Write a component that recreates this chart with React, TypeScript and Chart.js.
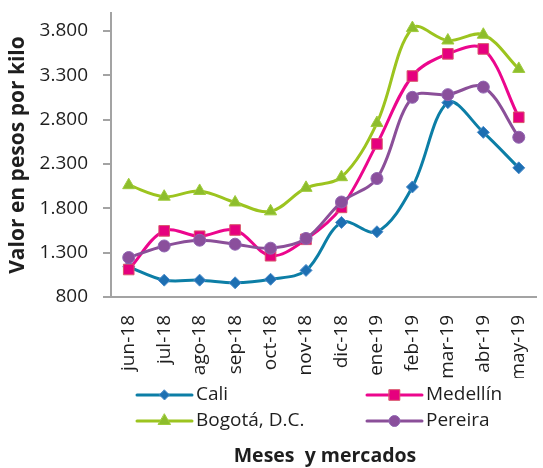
import React, { useEffect, useRef } from 'react';
import { Chart, registerables } from 'chart.js';

Chart.register(...registerables);

// ---- Data ----
const months = ['jun-18', 'jul-18', 'ago-18', 'sep-18', 'oct-18', 'nov-18', 'dic-18', 'ene-19', 'feb-19', 'mar-19', 'abr-19', 'may-19'];
const cali = [1140, 990, 990, 960, 1000, 1100, 1640, 1535, 2040, 2990, 2655, 2255];
const medellin = [1110, 1545, 1485, 1555, 1265, 1450, 1810, 2525, 3290, 3540, 3595, 2825];
const bogota = [2060, 1930, 1995, 1865, 1765, 2030, 2150, 2760, 3830, 3690, 3755, 3370];
const pereira = [1245, 1375, 1440, 1395, 1350, 1460, 1870, 2135, 3050, 3080, 3165, 2600];
const seriesNames = ['Cali', 'Medellín', 'Bogotá, D.C.', 'Pereira'];
const yTicks = [800, 1300, 1800, 2300, 2800, 3300, 3800];
const yMin = 800;
const yMax = 4000;
const yTitle = 'Valor en pesos por kilo';
const xTitle = 'Meses  y mercados';

// ---- Styles ----
const FONT = '"Open Sans", "DejaVu Sans", sans-serif';
const TEXT = '#1e1e1e';
const AXIS = '#a3a3a3';
const seriesStyles = [
  { line: '#0c7ea6', fill: '#1d6fb2', border: '#4a8bcb', shape: 'rectRot', radius: 6, legendRadius: 5 },
  { line: '#ec068d', fill: '#e6007e', border: '#d9566c', shape: 'rect', radius: 7.5, legendRadius: 7.5 },
  { line: '#9cc41f', fill: '#8dbd2c', border: '#9fcb3c', shape: 'triangle', radius: 7, legendRadius: 7 },
  { line: '#8b4f99', fill: '#8a4f9c', border: '#9066b2', shape: 'circle', radius: 6, legendRadius: 5.5 },
];
const legendPos = [
  { x0: 137, x1: 192, tx: 196, y: 395 },
  { x0: 367, x1: 422, tx: 426, y: 395 },
  { x0: 137, x1: 192, tx: 196, y: 421 },
  { x0: 367, x1: 422, tx: 426, y: 421 },
];

function fmt(v: number) {
  return String(Math.round(v)).replace(/\B(?=(\d{3})+(?!\d))/g, '.');
}

function drawMarker(ctx: CanvasRenderingContext2D, shape: string, x: number, y: number, r: number, fill: string, border: string) {
  ctx.beginPath();
  if (shape === 'rectRot') {
    ctx.moveTo(x, y - r);
    ctx.lineTo(x + r, y);
    ctx.lineTo(x, y + r);
    ctx.lineTo(x - r, y);
    ctx.closePath();
  } else if (shape === 'rect') {
    const s = r * Math.SQRT1_2;
    ctx.rect(x - s, y - s, 2 * s, 2 * s);
  } else if (shape === 'triangle') {
    ctx.moveTo(x, y - r);
    ctx.lineTo(x + r * 0.866, y + r / 2);
    ctx.lineTo(x - r * 0.866, y + r / 2);
    ctx.closePath();
  } else {
    ctx.arc(x, y, r, 0, Math.PI * 2);
  }
  ctx.fillStyle = fill;
  ctx.fill();
  ctx.lineWidth = 1;
  ctx.strokeStyle = border;
  ctx.stroke();
}

const legendPlugin = {
  id: 'customLegend',
  afterDraw(chart: any) {
    const ctx: CanvasRenderingContext2D = chart.ctx;
    ctx.save();
    seriesNames.forEach((name, i) => {
      const st = seriesStyles[i];
      const p = legendPos[i];
      ctx.beginPath();
      ctx.moveTo(p.x0, p.y);
      ctx.lineTo(p.x1, p.y);
      ctx.lineWidth = 3;
      ctx.strokeStyle = st.line;
      ctx.lineCap = 'round';
      ctx.stroke();
      drawMarker(ctx, st.shape, (p.x0 + p.x1) / 2, p.y, st.legendRadius, st.fill, st.border);
      ctx.font = `19px ${FONT}`;
      ctx.fillStyle = TEXT;
      ctx.textAlign = 'left';
      ctx.textBaseline = 'middle';
      ctx.fillText(name, p.tx, p.y);
    });
    ctx.font = `bold 19.5px ${FONT}`;
    ctx.fillStyle = TEXT;
    ctx.textAlign = 'center';
    ctx.textBaseline = 'middle';
    ctx.fillText(xTitle, 325, 456);
    ctx.restore();
  },
};

export default function App() {
  const ref = useRef<HTMLCanvasElement | null>(null);

  useEffect(() => {
    document.body.style.margin = '0';
    if (!ref.current) return;
    Chart.defaults.font.family = FONT;
    const values = [cali, medellin, bogota, pereira];
    const chart = new Chart(ref.current, {
      type: 'line',
      data: {
        labels: months,
        datasets: values.map((d, i) => ({
          label: seriesNames[i],
          data: d,
          borderColor: seriesStyles[i].line,
          backgroundColor: seriesStyles[i].fill,
          borderWidth: 3,
          tension: 0.35,
          pointStyle: seriesStyles[i].shape as any,
          pointRadius: seriesStyles[i].radius,
          pointBackgroundColor: seriesStyles[i].fill,
          pointBorderColor: seriesStyles[i].border,
          pointBorderWidth: 1,
          order: 4 - i,
          fill: false,
        })),
      },
      options: {
        responsive: false,
        animation: false,
        layout: { padding: { top: 13, left: 0, right: 0, bottom: 90 } },
        plugins: {
          legend: { display: false },
          tooltip: { enabled: false },
        },
        scales: {
          x: {
            offset: true,
            grid: { display: false, drawTicks: false },
            border: { display: true, color: AXIS, width: 2 },
            ticks: {
              autoSkip: false,
              maxRotation: 90,
              minRotation: 90,
              padding: 18,
              color: TEXT,
              font: { size: 19, family: FONT },
            },
            afterFit(scale: any) {
              scale.height = 468 - 90 - 297;
              scale.paddingLeft = 0;
              scale.paddingRight = 0;
            },
          },
          y: {
            min: yMin,
            max: yMax,
            grid: { drawOnChartArea: false, drawTicks: true, tickLength: 8, color: AXIS, lineWidth: 2 },
            border: { display: true, color: AXIS, width: 2 },
            afterBuildTicks(scale: any) {
              scale.ticks = yTicks.map((v) => ({ value: v }));
            },
            ticks: {
              padding: 15,
              color: TEXT,
              font: { size: 19, family: FONT },
              callback: (v: any) => fmt(Number(v)),
            },
            title: {
              display: true,
              text: yTitle,
              color: TEXT,
              font: { size: 21, weight: 'bold', family: FONT },
              padding: { top: 5, bottom: 0 },
            },
            afterFit(scale: any) {
              scale.width = 111;
              scale.paddingTop = 0;
              scale.paddingBottom = 0;
            },
          },
        },
      },
      plugins: [legendPlugin],
    });
    return () => chart.destroy();
  }, []);

  return (
    <div style={{ width: 543, height: 468, overflow: 'hidden', position: 'relative', background: '#fff' }}>
      <canvas ref={ref} width={545} height={468} style={{ display: 'block' }} />
    </div>
  );
}
